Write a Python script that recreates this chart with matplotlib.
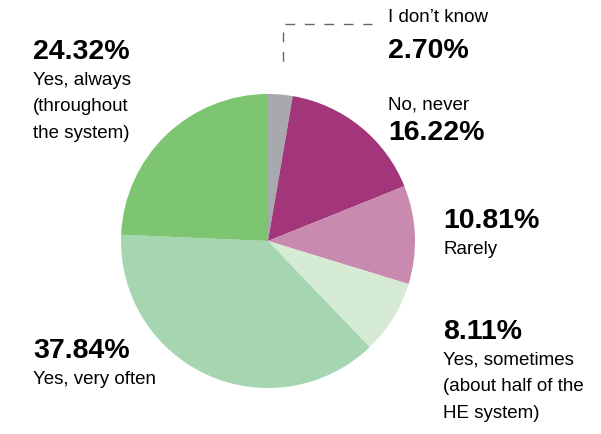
import matplotlib.pyplot as plt

categories = ["I don\u2019t know", "No, never", "Rarely",
              "Yes, sometimes\n(about half of the\nHE system)",
              "Yes, very often", "Yes, always\n(throughout\nthe system)"]
values = [2.70, 16.22, 10.81, 8.11, 37.84, 24.32]
colors = ["#a7a9ac", "#a3357a", "#c98ab0", "#d6ebd3", "#a5d6b1", "#7ec572"]

# label anchor points (pixels from top-left): percent top, category top
label_pos = [(388, 38, 9), (388, 120, 96), (443, 208, 241),
             (443, 319, 352), (33, 338, 371), (33, 39, 72)]

W, H = 601, 435
fig = plt.figure(figsize=(W / 100, H / 100), dpi=100)
ax = fig.add_axes([0, 0, 1, 1])

ax.pie(values, colors=colors, startangle=90, counterclock=False,
       center=(268, H - 242), radius=147, frame=True,
       wedgeprops=dict(linewidth=0))
ax.set_xlim(0, W)
ax.set_ylim(0, H)
ax.set_aspect("equal")
ax.axis("off")

fam = ["Liberation Sans", "DejaVu Sans"]
for cat, v, (x, yp, yc) in zip(categories, values, label_pos):
    ax.text(x, H - yp, f"{v:.2f}%", fontsize=20.5, weight="bold",
            family=fam, va="top", ha="left")
    ax.text(x, H - yc, cat, fontsize=13.5, family=fam, va="top",
            ha="left", linespacing=1.72)

# dashed leader for the small slice
ax.plot([285, 372], [H - 25, H - 25], color="#666666", lw=1, dashes=(7, 7))
ax.plot([283, 283], [H - 33, H - 70], color="#666666", lw=1, dashes=(7, 7))

fig.savefig("out.png", dpi=100)
